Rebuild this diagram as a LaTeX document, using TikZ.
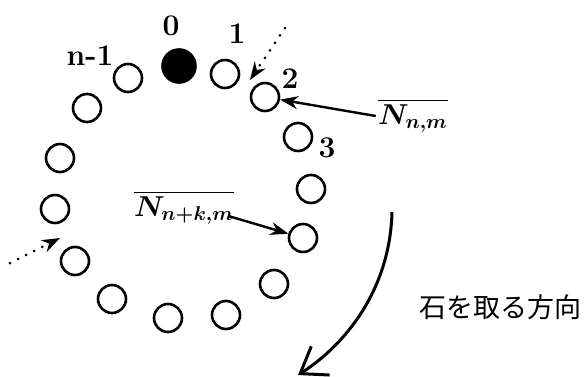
\documentclass[tikz,border=0pt]{standalone}
\usepackage{amsmath}
\usepackage{bm}
\usepackage{fontspec}
\newfontfamily\jafont{Noto Sans CJK JP}
\usetikzlibrary{arrows.meta}
\tikzset{
  stone/.style={draw, circle, line width=1.3pt, minimum size=14pt, inner sep=0pt},
  taken/.style={stone, fill=black, minimum size=16.5pt},
  idx/.style={anchor=base, font=\fontsize{15}{17}\selectfont\bfseries, inner sep=0pt},
  mlabel/.style={font=\fontsize{14}{16}\selectfont, inner sep=1pt},
  arrow/.style={-{Stealth[length=9pt, width=6.5pt]}, line width=1.2pt},
  dotarrow/.style={-{Stealth[length=9pt, width=6.5pt]}, line width=1.5pt, line cap=round, dash pattern=on 0pt off 4.5pt},
  turn/.style={-{Straight Barb[length=12pt, width=17pt]}, line width=1.5pt}
}
\begin{document}
\begin{tikzpicture}[x=0.5pt, y=-0.5pt]
    \useasboundingbox (0,0) rectangle (585,376);
    % stones on the ring
    \node[taken] (c0) at (179,66) {};
    \foreach \px/\py [count=\i] in {225/74, 265/97, 298/137, 311/189, 303/238, 274/284, 226/315,
        168/318, 112/299, 75/261, 55/209, 60/158, 87/108, 128/78}
      \node[stone] (c\i) at (\px,\py) {};
    % index labels
    \node[idx] (l0) at (171,35) {0};
    \node[idx] (l1) at (237,43) {1};
    \node[idx] (l2) at (290,88) {2};
    \node[idx] (l3) at (327,157) {3};
    \node[idx] (ln) at (90,65) {n-1};
    % values
    \node[mlabel] (nnm) at (413,116) {$\overline{\bm{N_{n,m}}}$};
    \node[mlabel] (nnk) at (184,208) {$\overline{\bm{N_{n+k,m}}}$};
    \draw[arrow] (nnm.west) -- (c2);
    \draw[arrow] ([xshift=-4pt, yshift=-4pt]nnk.east) -- (c5);
    % entry points
    \coordinate (d1s) at (285,28);
    \coordinate (d1e) at (250,80);
    \coordinate (d2s) at (10,263);
    \coordinate (d2e) at (60,238);
    \draw[dotarrow] (d1s) -- (d1e);
    \draw[dotarrow] (d2s) -- (d2e);
    % direction of taking
    \coordinate (ts) at (392,212);
    \coordinate (te) at (298,375);
    \draw[turn] (ts) .. controls (390,290) and (345,345) .. (te);
    \node[font=\fontsize{13.5}{15}\selectfont\jafont, inner sep=0pt] (dir) at (500,307) {石を取る方向};
\end{tikzpicture}
\end{document}
